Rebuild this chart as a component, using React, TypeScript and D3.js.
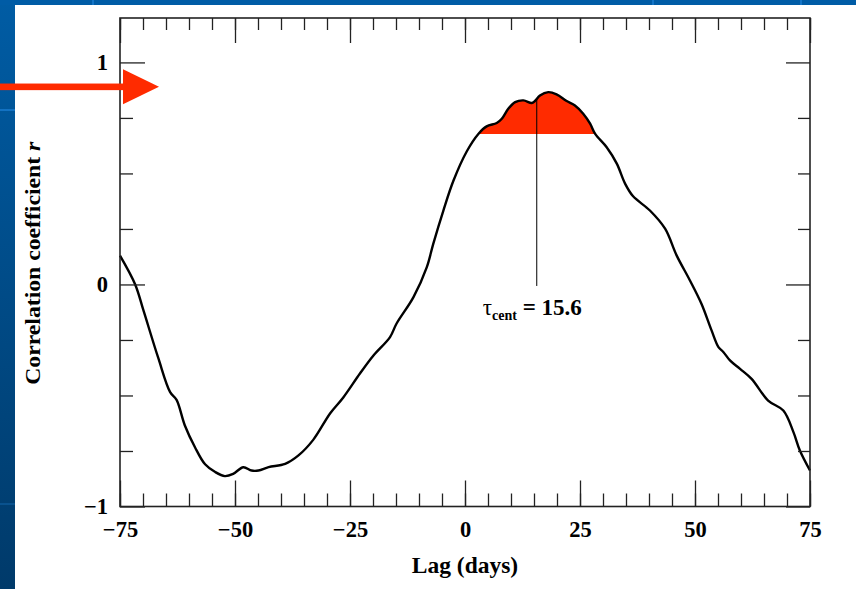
import React, { useRef, useEffect } from "react";
import * as d3 from "d3";

// lag in days and correlation coefficient
const lags = [
  -75, -71.7, -69.9, -66.7, -64.1, -62.7, -60.9, -58.7, -56.5, -54.3, -52.2,
  -50.4, -48.2, -46.4, -44.9, -42.7, -39.1, -36.2, -33, -29.3, -26.5, -22.8,
  -19.9, -16.3, -14.9, -11.2, -8.3, -6.9, -4.7, -2.5, 0.4, 2.9, 4.7, 6.9, 8.0,
  9.4, 10.9, 12.7, 14.5, 15.2, 16.3, 18.1, 19.9, 22.1, 23.9, 25.7, 27.2, 28.3,
  30.8, 33, 34.8, 36.5, 40.2, 43.5, 46, 48.9, 51.4, 53.6, 55.1, 56.2, 57.6,
  59.8, 62.3, 65.9, 69.2, 71.4, 72.8, 75,
];
const rValues = [
  0.13, 0.0, -0.117, -0.33, -0.485, -0.52, -0.635, -0.733, -0.81, -0.845,
  -0.863, -0.853, -0.823, -0.838, -0.838, -0.823, -0.808, -0.77, -0.7, -0.58,
  -0.51, -0.4, -0.32, -0.237, -0.177, -0.057, 0.078, 0.183, 0.333, 0.468, 0.6,
  0.678, 0.712, 0.727, 0.746, 0.791, 0.821, 0.829, 0.817, 0.826, 0.851, 0.866,
  0.856, 0.826, 0.806, 0.769, 0.724, 0.678, 0.618, 0.544, 0.454, 0.398, 0.333,
  0.251, 0.131, 0.018, -0.087, -0.207, -0.282, -0.305, -0.342, -0.38, -0.425,
  -0.523, -0.568, -0.665, -0.748, -0.838,
];

const xMajor = [-75, -50, -25, 0, 25, 50, 75];
const xMinor = d3.range(-75, 76, 5);
const yMajor = [-1, 0, 1];
const yMinor = [-0.75, -0.5, -0.25, 0.25, 0.5, 0.75];

const threshold = 0.678; // cut level of the shaded peak
const tauCent = 15.6;
const arrowR = 0.89;

const W = 856;
const H = 589;
const left = 120;
const right = 810;
const top = 18;
const bottom = 506.5;

const FONT = "'Liberation Serif', 'Times New Roman', serif";
const RED = "#ff2b00";

function App() {
  const axRef = useRef<SVGGElement>(null);

  const x = d3.scaleLinear().domain([-75, 75]).range([left, right]);
  const y = d3.scaleLinear().domain([-1, 1.2]).range([bottom, top]);

  const points = lags.map((l, i) => ({ lag: l, r: rValues[i] }));
  const curve = d3
    .line<{ lag: number; r: number }>()
    .x((d) => x(d.lag))
    .y((d) => y(d.r))
    .curve(d3.curveCatmullRom.alpha(0.5));
  const peak = d3
    .area<{ lag: number; r: number }>()
    .x((d) => x(d.lag))
    .y0(y(threshold))
    .y1((d) => y(d.r))
    .curve(d3.curveCatmullRom.alpha(0.5));
  const peakPts = points.filter((d) => d.lag >= 2.9 && d.lag <= 28.3);

  // r at tau from the series for the top of the marker line
  const i = d3.bisector((d: { lag: number }) => d.lag).left(points, tauCent);
  const p0 = points[i - 1];
  const p1 = points[i];
  const tauR = p0.r + ((p1.r - p0.r) * (tauCent - p0.lag)) / (p1.lag - p0.lag);

  useEffect(() => {
    const g = d3.select(axRef.current);
    g.selectAll("*").remove();
    const fmt = d3.format("d");

    const add = (axis: any, tr: string) => {
      const a = g.append("g").attr("transform", tr).call(axis);
      a.select(".domain").remove();
      a.selectAll("line").attr("stroke", "#222").attr("stroke-width", 1.3);
      a.selectAll("text")
        .attr("font-family", FONT)
        .attr("font-weight", "bold")
        .attr("font-size", 22.5)
        .attr("fill", "#000");
      return a;
    };

    // bottom
    add(d3.axisBottom(x).tickValues(xMinor).tickSize(-13).tickFormat(() => ""), `translate(0,${bottom})`);
    add(d3.axisBottom(x).tickValues(xMajor).tickSize(-26).tickPadding(15).tickFormat(fmt as any), `translate(0,${bottom})`);
    // top
    add(d3.axisTop(x).tickValues(xMinor).tickSize(-12).tickFormat(() => ""), `translate(0,${top})`);
    add(d3.axisTop(x).tickValues(xMajor).tickSize(-25).tickFormat(() => ""), `translate(0,${top})`);
    // left
    add(d3.axisLeft(y).tickValues(yMinor).tickSize(-13).tickFormat(() => ""), `translate(${left},0)`);
    add(d3.axisLeft(y).tickValues(yMajor).tickSize(-25).tickPadding(12).tickFormat(fmt as any), `translate(${left},0)`);
    // right
    add(d3.axisRight(y).tickValues(yMinor).tickSize(-12).tickFormat(() => ""), `translate(${right},0)`);
    add(d3.axisRight(y).tickValues(yMajor).tickSize(-24).tickFormat(() => ""), `translate(${right},0)`);
  }, []);

  const ay = y(arrowR);

  return (
    <svg
      width={W}
      height={H}
      style={{ position: "absolute", left: 0, top: 0, display: "block" }}
    >
      <defs>
        <linearGradient id="side" x1="0" y1="0" x2="0" y2="1">
          <stop offset="0" stopColor="#005ca4" />
          <stop offset="1" stopColor="#003a6a" />
        </linearGradient>
      </defs>
      {/* slide background */}
      <rect x={0} y={0} width={W} height={H} fill="url(#side)" />
      <rect x={0} y={0} width={W} height={5} fill="#005ca6" />
      <line x1={0} x2={15} y1={110} y2={110} stroke="#1a7cd0" strokeWidth={1.5} />
      <line x1={0} x2={15} y1={504} y2={504} stroke="#0d5a98" strokeWidth={1.5} />
      <line x1={93} x2={93} y1={0} y2={5} stroke="#1a7cd0" strokeWidth={1.5} />
      <line x1={653} x2={653} y1={0} y2={5} stroke="#1a7cd0" strokeWidth={1.5} />
      <line x1={801} x2={801} y1={0} y2={5} stroke="#1a7cd0" strokeWidth={1.5} />
      <rect x={15} y={5} width={W - 15} height={H - 5} fill="#fff" />

      {/* shaded peak */}
      <path d={peak(peakPts) || ""} fill={RED} />

      {/* marker line at tau_cent */}
      <line
        x1={x(tauCent)}
        x2={x(tauCent)}
        y1={y(tauR)}
        y2={y(0) + 1.5}
        stroke="#000"
        strokeWidth={1}
      />

      <path d={curve(points) || ""} fill="none" stroke="#000" strokeWidth={2.4} strokeLinejoin="round" />

      {/* frame */}
      <rect x={left} y={top} width={right - left} height={bottom - top} fill="none" stroke="#222" strokeWidth={1.6} />
      <g ref={axRef} />

      {/* arrow */}
      <rect x={0} y={ay - 3.3} width={left + 4} height={6.6} fill={RED} />
      <polygon
        points={`${left + 3},${ay - 17.5} ${left + 39},${ay} ${left + 3},${ay + 17.5}`}
        fill={RED}
      />

      {/* tau label */}
      <text x={x(tauCent) - 54} y={315} fontFamily={FONT} fontSize={23} fill="#000">
        <tspan>τ</tspan>
        <tspan fontSize={14} fontWeight="bold" dy={5}>cent</tspan>
        <tspan fontWeight="bold" dy={-5}> = 15.6</tspan>
      </text>

      <text
        x={(left + right) / 2}
        y={573}
        textAnchor="middle"
        fontFamily={FONT}
        fontWeight="bold"
        fontSize={23.5}
      >
        Lag (days)
      </text>
      <text
        transform={`translate(40,${(top + bottom) / 2 + 1}) rotate(-90)`}
        textAnchor="middle"
        fontFamily={FONT}
        fontWeight="bold"
        fontSize={21}
        textLength={243}
        lengthAdjust="spacingAndGlyphs"
      >
        Correlation coefficient <tspan fontStyle="italic">r</tspan>
      </text>
    </svg>
  );
}

export default App;
